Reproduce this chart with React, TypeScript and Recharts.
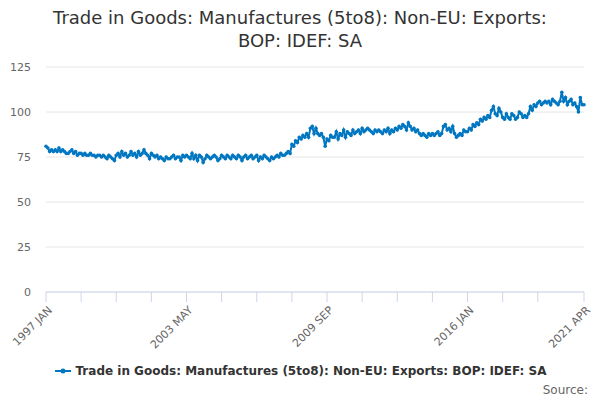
import { LineChart, Line, XAxis, YAxis, CartesianGrid } from 'recharts';

const MONTH_NAMES = ['JAN', 'FEB', 'MAR', 'APR', 'MAY', 'JUN', 'JUL', 'AUG', 'SEP', 'OCT', 'NOV', 'DEC'];

// monthly index values, one row per year, 1997 JAN .. 2021 APR
const exportsValues: number[] = [
  81, 80, 78, 79, 78, 79, 78, 80, 78, 79, 78, 77, // 1997
  77, 78, 79, 77, 78, 76, 77, 77, 76, 77, 76, 76, // 1998
  77, 76, 76, 75, 76, 76, 75, 76, 75, 74, 76, 75, // 1999
  74, 73, 76, 77, 75, 78, 76, 77, 75, 76, 78, 76, // 2000
  77, 75, 78, 76, 77, 79, 77, 76, 74, 77, 76, 75, // 2001
  76, 74, 75, 74, 73, 75, 74, 74, 75, 76, 74, 75, // 2002
  75, 73, 76, 75, 76, 75, 74, 77, 74, 76, 73, 76, // 2003
  75, 72, 74, 76, 75, 74, 75, 76, 75, 73, 74, 76, // 2004
  75, 74, 76, 75, 74, 76, 75, 74, 76, 75, 73, 75, // 2005
  76, 74, 75, 76, 74, 75, 76, 73, 75, 74, 76, 75, // 2006
  74, 73, 75, 74, 75, 76, 75, 77, 76, 76, 77, 78, // 2007
  77, 82, 81, 84, 83, 86, 85, 87, 86, 88, 86, 91, // 2008
  92, 88, 91, 88, 87, 88, 86, 81, 85, 84, 87, 86, // 2009
  86, 89, 85, 88, 87, 90, 86, 89, 88, 87, 90, 88, // 2010
  89, 90, 88, 91, 89, 90, 91, 90, 89, 88, 90, 89, // 2011
  90, 89, 88, 90, 89, 91, 88, 90, 89, 91, 90, 92, // 2012
  91, 93, 92, 90, 94, 92, 90, 91, 89, 90, 88, 87, // 2013
  88, 87, 86, 88, 87, 88, 87, 88, 89, 87, 88, 92, // 2014
  93, 90, 91, 89, 92, 88, 86, 87, 88, 87, 90, 89, // 2015
  89, 91, 90, 93, 92, 94, 93, 96, 95, 97, 96, 98, // 2016
  97, 101, 103, 99, 98, 102, 100, 97, 96, 99, 97, 96, // 2017
  99, 98, 96, 97, 100, 99, 97, 98, 97, 99, 103, 101, // 2018
  104, 103, 105, 106, 104, 105, 106, 105, 106, 104, 107, 106, // 2019
  105, 104, 106, 111, 106, 108, 104, 106, 107, 104, 105, 103, // 2020
  100, 108, 104, 104, // 2021
];

const monthLabels: string[] = exportsValues.map(
  (_, i) => `${1997 + Math.floor(i / 12)} ${MONTH_NAMES[i % 12]}`
);

const labelledTicks = ['1997 JAN', '2003 MAY', '2009 SEP', '2016 JAN', '2021 APR'];
// minor tick marks every 19 months, plus the last month
const tickMonths = [
  ...monthLabels.filter((_, i) => i % 19 === 0 && i < 280),
  monthLabels[monthLabels.length - 1],
];
const yTicks = [0, 25, 50, 75, 100, 125];

const seriesName = 'Trade in Goods: Manufactures (5to8): Non-EU: Exports: BOP: IDEF: SA';
const LINE_COLOR = '#0077c0';
const FONT = '"DejaVu Sans", Verdana, sans-serif';

const data = monthLabels.map((month, i) => ({ month, value: exportsValues[i] }));

function XTick(props: any) {
  const { x, y, payload } = props;
  if (!labelledTicks.includes(payload.value)) return null;
  return (
    <g transform={`translate(${x + 4},${y + 4})`}>
      <text textAnchor="end" transform="rotate(-45)" fontSize={11} fill="#666666" fontFamily={FONT} dy={4}>
        {payload.value}
      </text>
    </g>
  );
}

export default function App() {
  return (
    <div style={{ position: 'absolute', left: 0, top: 0, width: 600, height: 400, background: '#fff', fontFamily: FONT }}>
      <div
        style={{
          position: 'absolute', top: 6, left: 0, width: 600, textAlign: 'center',
          fontSize: 18, lineHeight: '23px', color: '#333333',
        }}
      >
        Trade in Goods: Manufactures (5to8): Non-EU: Exports:
        <br />
        BOP: IDEF: SA
      </div>
      <LineChart width={600} height={400} data={data} margin={{ top: 67, right: 16, bottom: 0, left: 6 }}>
        <CartesianGrid vertical={false} stroke="#e6e6e6" />
        <XAxis
          dataKey="month"
          ticks={tickMonths}
          interval={0}
          tick={<XTick />}
          stroke="#ccd6eb"
          tickSize={10}
          height={108}
        />
        <YAxis
          domain={[0, 125]}
          ticks={yTicks}
          width={40}
          axisLine={false}
          tickLine={false}
          tickSize={0}
          tickMargin={15}
          tick={{ fontSize: 11, fill: '#666666', fontFamily: FONT }}
        />
        <Line
          dataKey="value"
          name={seriesName}
          stroke={LINE_COLOR}
          strokeWidth={2}
          dot={{ r: 1.8, fill: LINE_COLOR, stroke: 'none' }}
          isAnimationActive={false}
        />
      </LineChart>
      <div
        style={{
          position: 'absolute', top: 364, left: 0, width: 600,
          display: 'flex', justifyContent: 'center', alignItems: 'center',
        }}
      >
        <svg width={18} height={12} style={{ marginRight: 4 }}>
          <line x1={1} x2={17} y1={6} y2={6} stroke={LINE_COLOR} strokeWidth={2} />
          <circle cx={9} cy={6} r={2.5} fill={LINE_COLOR} />
        </svg>
        <span style={{ fontSize: 12, fontWeight: 'bold', color: '#333333' }}>{seriesName}</span>
      </div>
      <div style={{ position: 'absolute', right: 12, top: 383, fontSize: 12, color: '#666666' }}>Source:</div>
    </div>
  );
}
